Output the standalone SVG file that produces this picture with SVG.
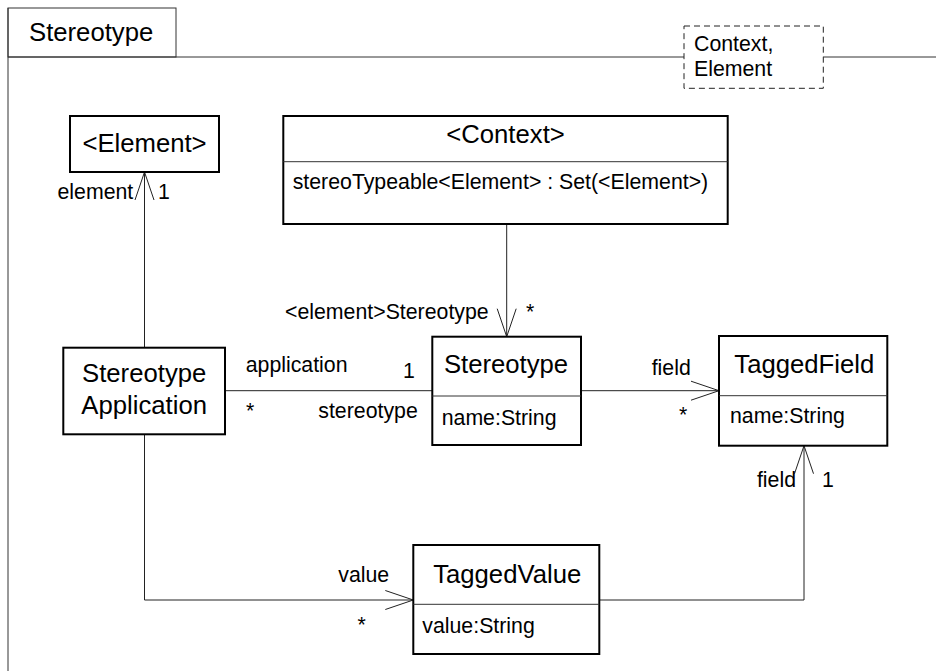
<svg xmlns="http://www.w3.org/2000/svg" width="936" height="671" viewBox="0 0 936 671">
<defs>
<style>
text{font-family:"Liberation Sans",Arial,sans-serif;fill:#000}
.nm{font-size:25.7px;text-anchor:middle}
.at{font-size:21.3px}
.lb{font-size:21.3px}
.box{fill:#fff;stroke:#000;stroke-width:2}
.div{stroke:#333;stroke-width:1}
.frame{fill:none;stroke:#333;stroke-width:1}
.conn{fill:none;stroke:#222;stroke-width:1}
.arr{fill:none;stroke:#222;stroke-width:1}
</style>
</defs>
<rect width="936" height="671" fill="#fff"/>
<g id="frame">
<rect class="frame" x="8" y="8" width="168" height="49" fill="#fff"/>
<line class="frame" x1="8" y1="8" x2="8" y2="671"/>
<line class="frame" x1="8" y1="57" x2="936" y2="57"/>
<text x="29" y="41" style="font-size:25.7px">Stereotype</text>
<rect x="684" y="26" width="139.3" height="62.3" fill="#fff" stroke="#222" stroke-width="1" stroke-dasharray="6,4"/>
<text class="at" x="694" y="51">Context,</text>
<text class="at" x="694" y="76">Element</text>
</g>
<g id="connectors">
<path class="conn" d="M144.5 347.7V172"/>
<path class="arr" d="M135 200L144.5 172L154 200"/>
<path class="conn" d="M506.7 224V336.7"/>
<path class="arr" d="M497.2 308.7L506.7 336.7L516.2 308.7"/>
<path class="conn" d="M225 390.7H432.3"/>
<path class="conn" d="M581 390.7H719"/>
<path class="arr" d="M691 381.2L719 390.7L691 400.2"/>
<path class="conn" d="M144.5 434.3V600H413.3"/>
<path class="arr" d="M385.3 590.5L413.3 600L385.3 609.5"/>
<path class="conn" d="M599.3 600H804V445.7"/>
<path class="arr" d="M794.5 473.7L804 445.7L813.5 473.7"/>
<text class="lb" x="133.3" y="199" text-anchor="end">element</text>
<text class="lb" x="158" y="199">1</text>
<text class="lb" x="285" y="319">&lt;element&gt;Stereotype</text>
<text class="lb" x="526" y="319">*</text>
<text class="lb" x="245.7" y="371.7">application</text>
<text class="lb" x="403" y="378">1</text>
<text class="lb" x="246" y="418">*</text>
<text class="lb" x="318.3" y="418">stereotype</text>
<text class="lb" x="651.7" y="375">field</text>
<text class="lb" x="679" y="422">*</text>
<text class="lb" x="796" y="486.7" text-anchor="end">field</text>
<text class="lb" x="822" y="486.7">1</text>
<text class="lb" x="338.3" y="581.7">value</text>
<text class="lb" x="357.5" y="632">*</text>
</g>
<g id="element">
<rect class="box" x="70" y="116" width="149" height="56"/>
<text class="nm" x="144.5" y="152">&lt;Element&gt;</text>
</g>
<g id="context">
<rect class="box" x="283.3" y="116" width="444.4" height="108"/>
<line class="div" x1="283.3" y1="161.7" x2="727.7" y2="161.7"/>
<text class="nm" x="505.5" y="143.3">&lt;Context&gt;</text>
<text class="at" x="292.7" y="189.3">stereoTypeable&lt;Element&gt; : Set(&lt;Element&gt;)</text>
</g>
<g id="stereotypeApplication">
<rect class="box" x="63.3" y="347.7" width="161.7" height="86.6"/>
<text class="nm" x="144.2" y="382">Stereotype</text>
<text class="nm" x="144.2" y="414">Application</text>
</g>
<g id="stereotype">
<rect class="box" x="432.3" y="336.7" width="148.7" height="108.3"/>
<line class="div" x1="432.3" y1="396" x2="581" y2="396"/>
<text class="nm" x="506" y="373">Stereotype</text>
<text class="at" x="441.7" y="425">name:String</text>
</g>
<g id="taggedField">
<rect class="box" x="719" y="336" width="168.3" height="109.7"/>
<line class="div" x1="719" y1="395.7" x2="887.3" y2="395.7"/>
<text class="nm" x="804.3" y="373.3">TaggedField</text>
<text class="at" x="730" y="422.7">name:String</text>
</g>
<g id="taggedValue">
<rect class="box" x="413.3" y="545" width="186" height="109"/>
<line class="div" x1="413.3" y1="604.3" x2="599.3" y2="604.3"/>
<text class="nm" x="507.2" y="583.3">TaggedValue</text>
<text class="at" x="422.3" y="632.7">value:String</text>
</g>
</svg>
